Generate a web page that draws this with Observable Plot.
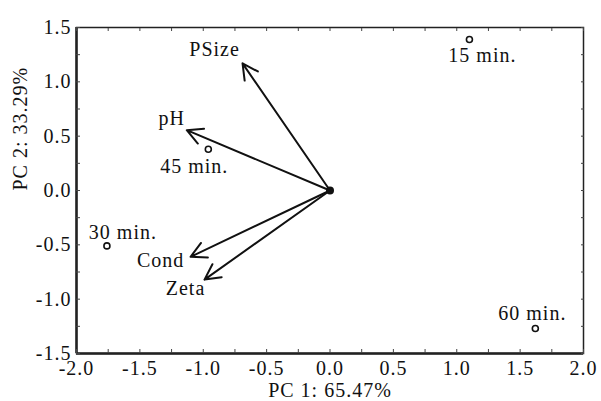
<!DOCTYPE html>
<html>
<head>
<meta charset="utf-8">
<script src="https://cdn.jsdelivr.net/npm/d3@7"></script>
<script src="https://cdn.jsdelivr.net/npm/@observablehq/plot@0.6"></script>
<style>
  html, body { margin: 0; padding: 0; background: #fff; }
  svg { font-family: "Liberation Serif", "Times New Roman", serif; }
  svg text { letter-spacing: 1px; }
</style>
</head>
<body>
<div id="chart"></div>
<script>
// Scores (sample times)
const scoreNames = ["15 min.", "30 min.", "45 min.", "60 min."];
const scoreX = [1.10, -1.76, -0.96, 1.62];
const scoreY = [1.39, -0.51, 0.38, -1.27];

// Loadings (variables)
const loadNames = ["PSize", "pH", "Cond", "Zeta"];
const loadX = [-0.69, -1.13, -1.10, -0.99];
const loadY = [1.17, 0.555, -0.61, -0.82];

// Axes
const xDomain = [-2, 2];
const yDomain = [-1.5, 1.5];
const xTicks = [-2, -1.5, -1, -0.5, 0, 0.5, 1, 1.5, 2];
const yTicks = [-1.5, -1, -0.5, 0, 0.5, 1, 1.5];
const xMinorTicks = [-1.75, -1.25, -0.75, -0.25, 0.25, 0.75, 1.25, 1.75];
const yMinorTicks = [-1.25, -0.75, -0.25, 0.25, 0.75, 1.25];
const xLabel = "PC 1: 65.47%";
const yLabel = "PC 2: 33.29%";

const scores = scoreNames.map((name, i) => ({name, x: scoreX[i], y: scoreY[i]}));
const loads = loadNames.map((name, i) => ({name, x: loadX[i], y: loadY[i]}));

// label offsets (pixels)
const scoreOffsets = {"15 min.": [13, 16], "30 min.": [16, -13], "45 min.": [-14, 17], "60 min.": [-3, -15]};
const loadOffsets = {"PSize": [-28, -14], "pH": [-15, -12], "Cond": [-30, 4], "Zeta": [-19, 9]};

const fmt = d => d.toFixed(1);
const blank = () => "";
const FS = 20;

const labelMarks = [
  ...scores.map(s => Plot.text([s], {x: "x", y: "y", text: "name", dx: scoreOffsets[s.name][0], dy: scoreOffsets[s.name][1], fontSize: FS, fill: "#111"})),
  ...loads.map(s => Plot.text([s], {x: "x", y: "y", text: "name", dx: loadOffsets[s.name][0], dy: loadOffsets[s.name][1], fontSize: FS, fill: "#111"}))
];

const chart = Plot.plot({
  width: 601,
  height: 401,
  marginLeft: 76,
  marginTop: 27,
  marginRight: 18,
  marginBottom: 48,
  style: {fontFamily: '"Liberation Serif", serif', fontSize: FS + "px", color: "#111", background: "#fff"},
  x: {domain: xDomain},
  y: {domain: yDomain},
  marks: [
    Plot.frame({stroke: "#222", strokeWidth: 1.5}),
    Plot.ruleX([xDomain[0]], {stroke: "#222", strokeWidth: 2.5}),
    Plot.ruleY([yDomain[0]], {stroke: "#222", strokeWidth: 2.5}),
    // inward tick marks
    Plot.axisX({anchor: "bottom", ticks: xTicks.concat(xMinorTicks), tickFormat: blank, tickSize: -4, label: null, stroke: "#444"}),
    Plot.axisX({anchor: "top", ticks: xTicks.concat(xMinorTicks), tickFormat: blank, tickSize: -3, label: null, stroke: "#444"}),
    Plot.axisY({anchor: "left", ticks: yTicks.concat(yMinorTicks), tickFormat: blank, tickSize: -4, label: null, stroke: "#444"}),
    Plot.axisY({anchor: "right", ticks: yTicks.concat(yMinorTicks), tickFormat: blank, tickSize: -3, label: null, stroke: "#444"}),
    // tick labels
    Plot.axisX({ticks: xTicks, tickFormat: fmt, tickSize: 0, tickPadding: 7, fontSize: FS, label: null}),
    Plot.axisY({ticks: yTicks, tickFormat: fmt, tickSize: 0, tickPadding: 5, fontSize: FS, label: null}),
    Plot.text([xLabel], {frameAnchor: "bottom", dy: 37, lineAnchor: "middle", fontSize: FS}),
    Plot.text([yLabel], {frameAnchor: "left", dx: -56, rotate: -90, lineAnchor: "middle", fontSize: FS}),
    Plot.arrow(loads, {x1: 0, y1: 0, x2: "x", y2: "y", stroke: "#111", strokeWidth: 2, headLength: 13, headAngle: 55}),
    Plot.dot([{x: 0, y: 0}], {x: "x", y: "y", r: 4, fill: "#111"}),
    Plot.dot(scores, {x: "x", y: "y", r: 3, stroke: "#111", strokeWidth: 1.6, fill: "#fff"}),
    ...labelMarks
  ]
});
document.getElementById("chart").appendChild(chart);
</script>
</body>
</html>
